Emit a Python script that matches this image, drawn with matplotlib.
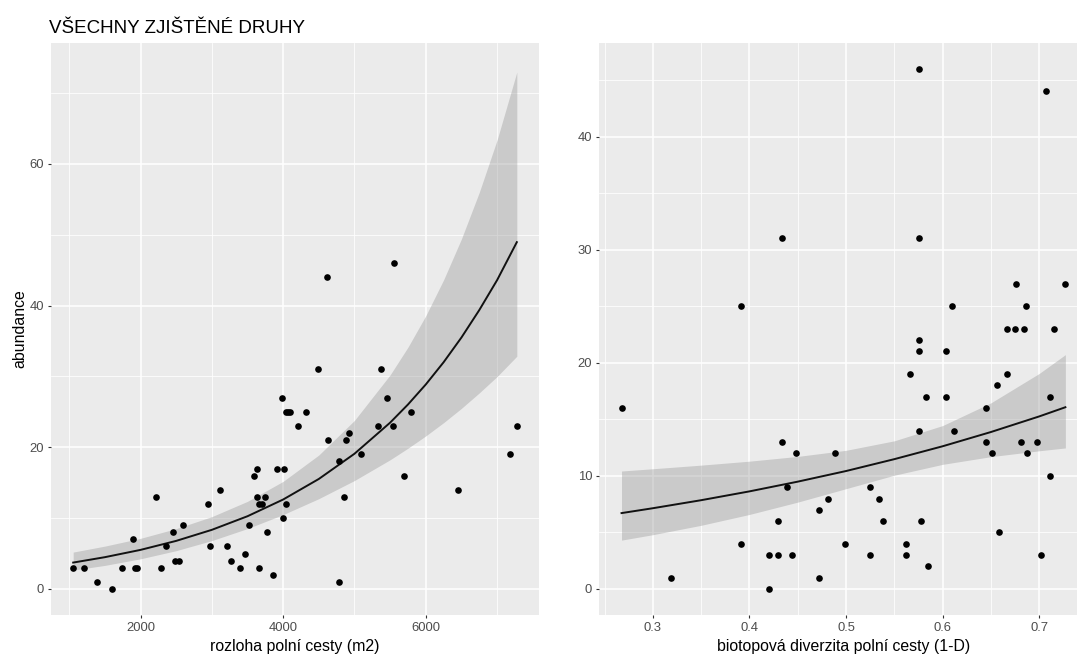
"""
plot.py

Abundance vs. field-path area and biotope diversity (two panels, ggplot look).
"""

import matplotlib

matplotlib.use("Agg")

import matplotlib.pyplot as plt
from matplotlib.ticker import FixedLocator

# --- data -------------------------------------------------------------------

# left panel: area of the field path (m2) vs abundance
area_m2 = [
    1056, 1210, 1392, 1607, 1747, 1901, 1925, 1948, 2219, 2284,
    2359, 2452, 2480, 2546, 2602, 2943, 2975, 3111, 3218, 3265,
    3400, 3461, 3522, 3587, 3634, 3634, 3662, 3699, 3662, 3741,
    3774, 3863, 3909, 3989, 4007, 4003, 4036, 4036, 4064, 4092,
    4204, 4325, 4493, 4624, 4619, 4783, 4788, 4848, 4881, 4927,
    5091, 5324, 5366, 5451, 5539, 5553, 5693, 5787, 6445, 7178,
    7276,
]
area_abundance = [
    3, 3, 1, 0, 3, 7, 3, 3, 13, 3,
    6, 8, 4, 4, 9, 12, 6, 14, 6, 4,
    3, 5, 9, 16, 17, 13, 12, 12, 3, 13,
    8, 2, 17, 27, 17, 10, 12, 25, 25, 25,
    23, 25, 31, 21, 44, 18, 1, 13, 21, 22,
    19, 23, 31, 27, 23, 46, 16, 25, 14, 19,
    23,
]

# fitted curve and confidence band (left)
area_fit_x = [1056, 1500, 2000, 2500, 3000, 3500, 4000, 4500, 5000,
              5500, 5750, 6000, 6250, 6500, 6750, 7000, 7276]
area_fit = [3.73, 4.49, 5.52, 6.79, 8.35, 10.27, 12.63, 15.53, 19.09,
            23.48, 26.04, 28.87, 32.01, 35.5, 39.37, 43.6, 48.95]
area_fit_lo = [2.67, 3.33, 4.26, 5.41, 6.83, 8.53, 10.50, 12.75, 15.31,
               18.24, 19.87, 21.61, 23.48, 25.50, 27.68, 29.99, 32.85]
area_fit_hi = [5.21, 6.05, 7.15, 8.52, 10.21, 12.37, 15.19, 18.91, 23.80,
               30.22, 34.13, 38.57, 43.64, 49.42, 55.99, 63.39, 72.95]

# right panel: biotope diversity (1-D) vs abundance
diversity = [
    0.268, 0.319, 0.391, 0.391, 0.420, 0.420, 0.430, 0.430, 0.434, 0.434,
    0.439, 0.444, 0.448, 0.472, 0.472, 0.481, 0.489, 0.499, 0.525, 0.525,
    0.534, 0.538, 0.562, 0.562, 0.566, 0.576, 0.576, 0.576, 0.576, 0.576,
    0.578, 0.583, 0.585, 0.603, 0.603, 0.610, 0.612, 0.645, 0.645, 0.651,
    0.656, 0.658, 0.667, 0.667, 0.675, 0.676, 0.681, 0.684, 0.686, 0.687,
    0.698, 0.702, 0.707, 0.711, 0.711, 0.715, 0.727,
]
diversity_abundance = [
    16, 1, 25, 4, 3, 0, 6, 3, 13, 31,
    9, 3, 12, 7, 1, 8, 12, 4, 9, 3,
    8, 6, 4, 3, 19, 22, 21, 14, 46, 31,
    6, 17, 2, 21, 17, 25, 14, 16, 13, 12,
    18, 5, 23, 19, 23, 27, 13, 23, 25, 12,
    13, 3, 44, 10, 17, 23, 27,
]

# fitted curve and confidence band (right)
div_fit_x = [0.2676, 0.30, 0.35, 0.40, 0.45, 0.50, 0.55, 0.60, 0.65, 0.70, 0.727]
div_fit = [6.71, 7.14, 7.85, 8.63, 9.49, 10.43, 11.48, 12.62, 13.88, 15.26, 16.07]
div_fit_lo = [4.32, 4.80, 5.63, 6.59, 7.68, 8.87, 10.06, 11.02, 11.70, 12.22, 12.47]
div_fit_hi = [10.43, 10.63, 10.95, 11.30, 11.72, 12.26, 13.10, 14.45, 16.46, 19.06, 20.72]

# --- style -------------------------------------------------------------------

W, H = 1077, 657
PANEL_BG = "#EBEBEB"
TICK_COLOR = "#333333"
TICK_LABEL_COLOR = "#4D4D4D"
TICK_FONT_SIZE = 9.4
LABEL_FONT_SIZE = 11.4
TITLE_FONT_SIZE = 13.5

plt.rcParams["font.family"] = ["Liberation Sans", "DejaVu Sans"]


def px_rect(left, top, right, bottom):
    """Pixel box -> figure fraction rect."""
    return [left / W, 1 - bottom / H, (right - left) / W, (bottom - top) / H]


def configure_axes(ax, xmajor, xminor, ymajor, yminor):

    ax.set_facecolor(PANEL_BG)

    for spine in ax.spines.values():
        spine.set_visible(False)

    ax.xaxis.set_major_locator(FixedLocator(xmajor))
    ax.xaxis.set_minor_locator(FixedLocator(xminor))
    ax.yaxis.set_major_locator(FixedLocator(ymajor))
    ax.yaxis.set_minor_locator(FixedLocator(yminor))

    ax.grid(True, which="major", color="white", linewidth=1.1)
    ax.grid(True, which="minor", color="white", linewidth=0.55)
    ax.set_axisbelow(True)

    ax.tick_params(
        axis="both",
        which="major",
        length=2.2,
        width=0.8,
        color=TICK_COLOR,
        labelcolor=TICK_LABEL_COLOR,
        labelsize=TICK_FONT_SIZE,
        pad=3,
    )
    ax.tick_params(axis="both", which="minor", length=0)


def draw_panel(ax, x, y, fit_x, fit, fit_lo, fit_hi):

    ax.fill_between(fit_x, fit_lo, fit_hi, color="#999999", alpha=0.4,
                    linewidth=0, zorder=2)
    ax.plot(fit_x, fit, color="#111111", linewidth=1.4, zorder=3,
            solid_joinstyle="round")
    ax.scatter(x, y, s=23, color="black", linewidths=0, zorder=4)


fig = plt.figure(figsize=(W / 100, H / 100), dpi=100)

# left panel
ax1 = fig.add_axes(px_rect(51, 42.7, 539, 615))
draw_panel(ax1, area_m2, area_abundance,
           area_fit_x, area_fit, area_fit_lo, area_fit_hi)
configure_axes(ax1, [2000, 4000, 6000], [1000, 3000, 5000, 7000],
               [0, 20, 40, 60], [10, 30, 50, 70])
ax1.set_xlim(745, 7587)
ax1.set_ylim(-3.67, 77.1)
ax1.set_xlabel("rozloha polní cesty (m2)", fontsize=LABEL_FONT_SIZE)
ax1.set_ylabel("abundance", fontsize=LABEL_FONT_SIZE)
ax1.xaxis.set_label_coords(0.5, -0.0416)
ax1.yaxis.set_label_coords(-0.048, 0.5)

# right panel (cut by the right edge of the image, as in the reference)
ax2 = fig.add_axes(px_rect(599.3, 42.7, 1087.6, 615))
draw_panel(ax2, diversity, diversity_abundance,
           div_fit_x, div_fit, div_fit_lo, div_fit_hi)
configure_axes(ax2, [0.3, 0.4, 0.5, 0.6, 0.7],
               [0.25, 0.35, 0.45, 0.55, 0.65, 0.75],
               [0, 10, 20, 30, 40], [5, 15, 25, 35, 45])
ax2.set_xlim(0.2446, 0.75)
ax2.set_ylim(-2.3, 48.3)
ax2.set_xticklabels(["0.3", "0.4", "0.5", "0.6", "0.7"])
ax2.set_xlabel("biotopová diverzita polní cesty (1-D)", fontsize=LABEL_FONT_SIZE)
ax2.xaxis.set_label_coords(0.5, -0.0416)

fig.text(49.3 / W, 1 - 33.3 / H, "VŠECHNY ZJIŠTĚNÉ DRUHY",
         fontsize=TITLE_FONT_SIZE, ha="left", va="baseline")

fig.savefig("out.png", dpi=100)
plt.close(fig)
